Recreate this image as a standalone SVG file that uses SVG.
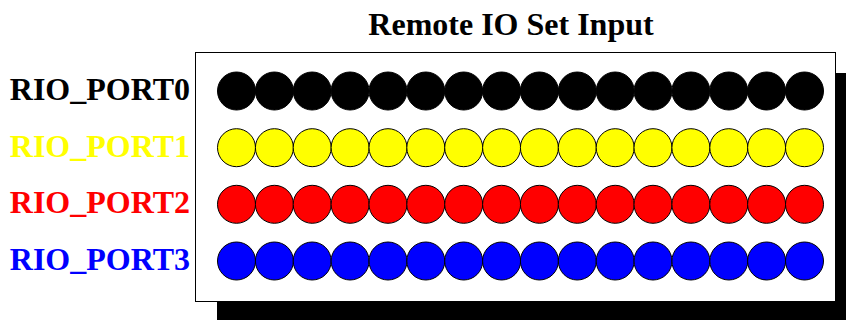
<svg xmlns="http://www.w3.org/2000/svg" width="846" height="320" viewBox="0 0 846 320">
<style>
text{font-family:"Liberation Serif","Times New Roman",serif;font-weight:bold;font-size:32px}
.lbl{text-anchor:end}
circle{stroke:#000;stroke-width:1}
.p0{fill:#000}.p1{fill:#ff0}.p2{fill:#f00}.p3{fill:#00f}
</style>
<defs>
<g id="row">
<circle cx="236.5" cy="0" r="19"/><circle cx="274.4" cy="0" r="19"/><circle cx="312.2" cy="0" r="19"/><circle cx="350.1" cy="0" r="19"/>
<circle cx="388" cy="0" r="19"/><circle cx="425.8" cy="0" r="19"/><circle cx="463.7" cy="0" r="19"/><circle cx="501.6" cy="0" r="19"/>
<circle cx="539.4" cy="0" r="19"/><circle cx="577.3" cy="0" r="19"/><circle cx="615.2" cy="0" r="19"/><circle cx="653" cy="0" r="19"/>
<circle cx="690.9" cy="0" r="19"/><circle cx="728.8" cy="0" r="19"/><circle cx="766.6" cy="0" r="19"/><circle cx="804.5" cy="0" r="19"/>
</g>
</defs>
<rect width="846" height="320" fill="#fff"/>
<text id="title" x="511" y="35" text-anchor="middle">Remote IO Set Input</text>
<g id="panel">
<rect x="217" y="73" width="641" height="249" fill="#000"/>
<rect x="195.5" y="52.5" width="640" height="249" fill="#fff" stroke="#000" stroke-width="1"/>
</g>
<g id="port0"><text class="lbl" x="190" y="100" fill="#000">RIO_PORT0</text><use href="#row" class="p0" transform="translate(0,91)"/></g>
<g id="port1"><text class="lbl" x="190" y="157" fill="#ff0">RIO_PORT1</text><use href="#row" class="p1" transform="translate(0,147.7)"/></g>
<g id="port2"><text class="lbl" x="190" y="213" fill="#f00">RIO_PORT2</text><use href="#row" class="p2" transform="translate(0,204.3)"/></g>
<g id="port3"><text class="lbl" x="190" y="270" fill="#00f">RIO_PORT3</text><use href="#row" class="p3" transform="translate(0,261)"/></g>
<g id="connectors"/>
</svg>
